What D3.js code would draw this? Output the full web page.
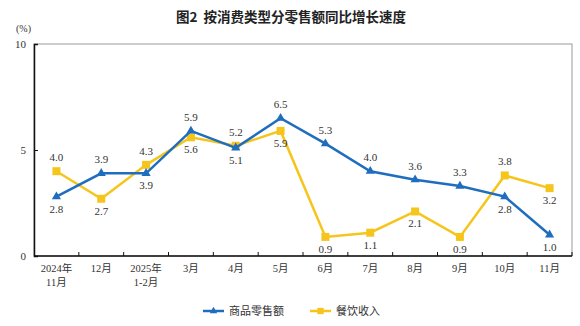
<!DOCTYPE html>
<html><head><meta charset="utf-8">
<script src="https://cdn.jsdelivr.net/npm/d3@7"></script>
<style>body{margin:0;background:#fff}svg{display:block}</style>
</head><body><svg id="c" width="580" height="326"></svg>
<script>
const categories = [["2024年","11月"],["12月"],["2025年","1-2月"],["3月"],["4月"],["5月"],["6月"],["7月"],["8月"],["9月"],["10月"],["11月"]];
const retail = [2.8,3.9,3.9,5.9,5.1,6.5,5.3,4.0,3.6,3.3,2.8,1.0];
const catering = [4.0,2.7,4.3,5.6,5.2,5.9,0.9,1.1,2.1,0.9,3.8,3.2];
// label position: 1 = above, -1 = below
const retailPos = [-1,1,-1,1,-1,1,1,1,1,1,-1,-1];
const cateringPos = [1,-1,1,-1,1,-1,-1,-1,-1,-1,1,-1];
const yTicks = [0,5,10];
const seriesNames = ["商品零售额","餐饮收入"];

const svg = d3.select("#c");
const L=34, R=572, T=44, B=256;
const x = d3.scaleBand().domain(d3.range(categories.length)).range([L,R]);
const y = d3.scaleLinear().domain([0,10]).range([B,T]);
const serif = "'Liberation Serif','Noto Sans CJK SC',serif";
const blue = "#1f6dbf", yellow = "#f6c51c";

svg.append("text").attr("x",291).attr("y",22).attr("text-anchor","middle")
  .attr("font-family","'Noto Sans CJK SC',sans-serif").attr("font-weight","bold")
  .attr("font-size",13.5).attr("fill","#222").text("图2\u00a0\u00a0按消费类型分零售额同比增长速度");
svg.append("text").attr("x",16).attr("y",32).attr("font-family",serif).attr("font-size",10).attr("fill","#333").text("(%)");

// frame
svg.append("rect").attr("x",L).attr("y",T).attr("width",R-L).attr("height",B-T)
  .attr("fill","none").attr("stroke","#999").attr("stroke-width",1);

// y axis
const ya = svg.append("g").attr("transform",`translate(${L},0)`)
  .call(d3.axisRight(y).tickValues(yTicks).tickSize(4).tickFormat(d3.format("d")));
ya.select(".domain").attr("stroke","#111").attr("stroke-width",1.5);
ya.selectAll("line").attr("stroke","#111");
ya.selectAll("text").attr("x",-8).attr("text-anchor","end").attr("font-family",serif).attr("font-size",11).attr("fill","#333");

// x axis
const xa = svg.append("g").attr("transform",`translate(0,${B})`);
xa.append("line").attr("x1",L).attr("x2",R).attr("stroke","#111").attr("stroke-width",1.5);
xa.selectAll("line.t").data(d3.range(1,categories.length+1)).join("line").attr("class","t")
  .attr("x1",i=>x(i-1)+x.bandwidth()).attr("x2",i=>x(i-1)+x.bandwidth()).attr("y1",0).attr("y2",-4)
  .attr("stroke","#111");
categories.forEach((c,i)=>{
  c.forEach((s,j)=>{
    xa.append("text").attr("x",x(i)+x.bandwidth()/2).attr("y",16+j*14).attr("text-anchor","middle")
      .attr("font-family",serif).attr("font-size",10.5).attr("fill","#333").text(s);
  });
});

const cx = i=>x(i)+x.bandwidth()/2;
const line = d3.line().x((d,i)=>cx(i)).y(d=>y(d));
function series(vals,pos,color,shape){
  svg.append("path").datum(vals).attr("d",line).attr("fill","none").attr("stroke",color).attr("stroke-width",2.5);
  svg.selectAll(null).data(vals).join("path")
    .attr("transform",(d,i)=>`translate(${cx(i)},${y(d)})`)
    .attr("d",d3.symbol().type(shape).size(shape===d3.symbolSquare?64:36)).attr("fill",color);
  svg.selectAll(null).data(vals).join("text")
    .attr("x",(d,i)=>cx(i)).attr("y",(d,i)=>y(d)+(pos[i]>0?-10:16))
    .attr("text-anchor","middle").attr("font-family",serif).attr("font-size",11).attr("fill","#333")
    .text(d=>d.toFixed(1));
}
series(catering,cateringPos,yellow,d3.symbolSquare);
series(retail,retailPos,blue,d3.symbolTriangle);

// legend
const lg = svg.append("g");
[[blue,d3.symbolTriangle,203,seriesNames[0]],[yellow,d3.symbolSquare,310,seriesNames[1]]].forEach(([c,s,x0,t])=>{
  lg.append("line").attr("x1",x0).attr("x2",x0+21).attr("y1",311).attr("y2",311).attr("stroke",c).attr("stroke-width",2.5);
  lg.append("path").attr("transform",`translate(${x0+10.5},311)`).attr("d",d3.symbol().type(s).size(s===d3.symbolSquare?40:24)).attr("fill",c);
  lg.append("text").attr("x",x0+26).attr("y",315).attr("font-family",serif).attr("font-size",11).attr("fill","#333").text(t);
});
</script></body></html>
